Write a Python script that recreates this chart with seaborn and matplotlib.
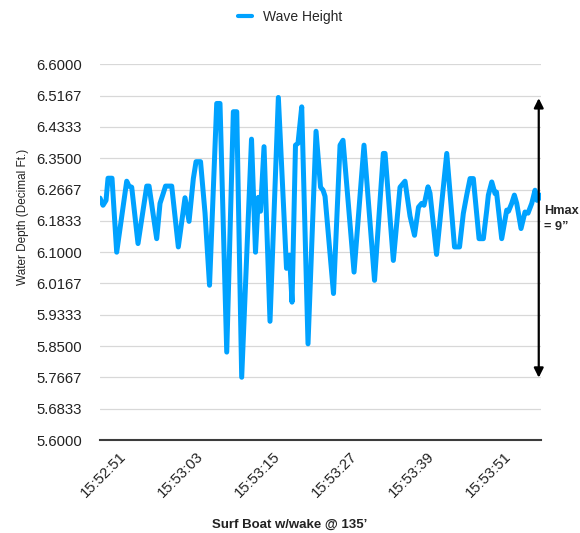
import matplotlib
matplotlib.use("Agg")
import matplotlib.pyplot as plt
import seaborn as sns
import pandas as pd
import numpy as np

# seconds after 15:52:51
seconds = [-0.47, 0.0, 0.47, 0.78, 1.40, 2.13, 3.69, 4.05, 4.47, 5.45,
           6.81, 7.17, 8.36, 8.88, 9.39, 9.74, 10.70, 11.73, 12.77, 13.40,
           14.07, 14.49, 15.19, 15.89, 16.59, 17.71, 18.22, 19.27, 20.30, 20.83,
           21.60, 23.13, 23.75, 24.19, 24.53, 25.08, 26.01, 27.31, 28.58, 29.05,
           29.44, 29.98, 30.37, 30.95, 31.93, 33.18, 33.88, 34.27, 34.58, 35.90,
           36.92, 37.38, 39.10, 40.65, 42.29, 43.66, 43.93, 45.22, 46.26, 47.04,
           47.82, 48.52, 49.14, 49.64, 50.00, 50.62, 50.93, 51.95, 53.54, 54.75,
           55.53, 56.12, 56.65, 57.17, 57.68, 58.57, 59.24, 59.77, 60.02, 60.55,
           61.06, 61.29, 62.10, 62.88, 63.16, 63.66, 64.07, 64.44, 65.11, 65.73,
           66.20, 66.78, 67.29, 67.60, 68.07, 68.22]
depth = [6.244, 6.225, 6.238, 6.297, 6.297, 6.100, 6.289, 6.276, 6.273, 6.123,
         6.276, 6.276, 6.136, 6.230, 6.257, 6.276, 6.276, 6.114, 6.245, 6.182,
         6.296, 6.341, 6.341, 6.204, 6.012, 6.496, 6.496, 5.834, 6.474, 6.474,
         5.767, 6.401, 6.100, 6.246, 6.209, 6.381, 5.916, 6.512, 6.057, 6.092,
         5.967, 6.385, 6.390, 6.487, 5.856, 6.422, 6.273, 6.265, 6.249, 5.990,
         6.385, 6.398, 6.047, 6.385, 6.025, 6.363, 6.363, 6.078, 6.273, 6.289,
         6.196, 6.145, 6.220, 6.230, 6.225, 6.274, 6.257, 6.094, 6.363, 6.114,
         6.114, 6.203, 6.252, 6.296, 6.296, 6.136, 6.136, 6.212, 6.252, 6.287,
         6.256, 6.260, 6.136, 6.212, 6.209, 6.230, 6.252, 6.230, 6.163, 6.207,
         6.204, 6.230, 6.265, 6.238, 6.252, 6.244]

tick_seconds = [0, 12, 24, 36, 48, 60]
tick_labels = ["15:52:51", "15:53:03", "15:53:15", "15:53:27", "15:53:39", "15:53:51"]
y_ticks = [6.6 - i / 12 for i in range(13)]
hmax_low, hmax_high = 5.766, 6.510
series_name = "Wave Height"

sns.set_style("white")
plt.rcParams["font.family"] = ["Liberation Sans", "DejaVu Sans"]

df = pd.DataFrame({"t": seconds, "depth": depth, "series": series_name})

fig = plt.figure(figsize=(5.8, 5.33), dpi=100)
ax = fig.add_axes([100 / 580, 1 - 440 / 533, 441 / 580, 375.6 / 533])

blue = "#00A2FF"
sns.lineplot(data=df, x="t", y="depth", hue="series", palette=[blue],
             estimator=None, sort=False, linewidth=3.6, ax=ax, legend=False)

ax.set_xlim(seconds[0], seconds[-1])
ax.set_ylim(5.6, 6.6)
ax.set_yticks(y_ticks)
ax.set_yticklabels([f"{v:.4f}" for v in y_ticks], fontsize=10.7, color="#222222")
ax.set_xticks(tick_seconds)
ax.set_xticklabels(tick_labels, rotation=45, ha="center", va="top",
                   fontsize=10.7, color="#222222")
ax.tick_params(axis="y", length=0, pad=13)
ax.tick_params(axis="x", length=0, pad=7)

ax.grid(axis="y", color="#d8d8d8", linewidth=0.9)
ax.grid(axis="x", visible=False)
for s in ["top", "right", "left"]:
    ax.spines[s].set_visible(False)
ax.spines["bottom"].set_color("#3c3c3c")
ax.spines["bottom"].set_linewidth(1.5)
ax.set_axisbelow(True)

ax.set_ylabel("Water Depth (Decimal Ft.)", fontsize=8.5, color="#222222")
ax.yaxis.set_label_coords(-0.162, 0.594)
ax.set_xlabel("Surf Boat w/wake @ 135\u2019", fontsize=9.5, fontweight="bold",
              color="#222222")
ax.xaxis.set_label_coords(0.431, -0.21)

# legend
from matplotlib.lines import Line2D
handle = Line2D([], [], color=blue, linewidth=3)
fig.legend([handle], [series_name], loc="center", bbox_to_anchor=(0.5, 1 - 17 / 533),
           frameon=False, fontsize=10, handlelength=1.0, handletextpad=0.8)

# Hmax arrow
arrow_x = seconds[-1] - 0.35
ax.annotate("", xy=(arrow_x, hmax_high), xytext=(arrow_x, hmax_low),
            xycoords="data", textcoords="data", annotation_clip=False,
            arrowprops=dict(arrowstyle="<|-|>", color="black", lw=1.6,
                            mutation_scale=14, shrinkA=0, shrinkB=0))
fig.text(544 / 580, 1 - 211 / 533, "Hmax", fontsize=9.2, fontweight="bold",
         va="center", ha="left")
fig.text(544 / 580, 1 - 227 / 533, "= 9\u201d", fontsize=9.2, fontweight="bold",
         va="center", ha="left")

fig.savefig("out.png", dpi=100)
